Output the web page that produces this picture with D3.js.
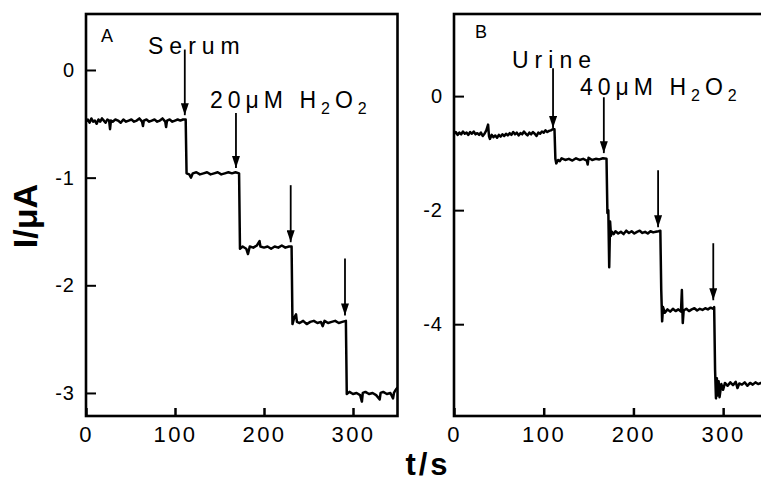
<!DOCTYPE html>
<html>
<head>
<meta charset="utf-8">
<script src="https://cdn.jsdelivr.net/npm/d3@7"></script>
<style>
  html, body { margin: 0; padding: 0; background: #fff; }
  svg { display: block; font-family: "Liberation Sans", Arial, sans-serif; }
</style>
</head>
<body>
<svg id="chart" width="761" height="483"></svg>
<script>
// ---------------- DATA ----------------
const xTicks = [0, 100, 200, 300];
const yTicksA = [0, -1, -2, -3];
const yTicksB = [0, -2, -4];

// Panel A: serum, 20 µM H2O2 additions  [t (s), I (µA)]
const traceA = [
  [0,-0.48],[2,-0.46],[4,-0.49],[6,-0.45],[8,-0.48],[10,-0.47],[12,-0.50],[14,-0.46],[16,-0.48],[18,-0.45],
  [20,-0.47],[22,-0.49],[24,-0.46],[26,-0.47],[27,-0.55],[28,-0.47],[30,-0.48],[33,-0.46],[36,-0.47],[39,-0.49],
  [42,-0.46],[45,-0.48],[48,-0.47],[51,-0.46],[54,-0.48],[57,-0.47],[60,-0.45],[63,-0.48],[64,-0.52],[65,-0.47],
  [68,-0.46],[71,-0.48],[74,-0.47],[77,-0.46],[80,-0.48],[83,-0.47],[86,-0.45],[89,-0.48],[90,-0.53],[91,-0.47],
  [94,-0.46],[97,-0.48],[100,-0.47],[103,-0.46],[106,-0.47],[109,-0.46],[112,-0.46],
  [113,-0.96],[116,-0.97],[118,-1.00],[120,-0.96],[124,-0.95],[128,-0.97],[132,-0.96],[136,-0.95],[140,-0.97],
  [144,-0.96],[148,-0.95],[152,-0.97],[156,-0.96],[160,-0.95],[164,-0.96],[168,-0.95],[172,-0.96],
  [173,-1.66],[176,-1.64],[180,-1.66],[182,-1.71],[184,-1.64],[188,-1.65],[192,-1.63],[195,-1.59],[196,-1.64],
  [200,-1.65],[204,-1.64],[208,-1.66],[212,-1.64],[216,-1.65],[220,-1.63],[224,-1.65],[228,-1.64],[231,-1.64],
  [232,-2.36],[234,-2.30],[236,-2.27],[237,-2.34],[240,-2.35],[244,-2.33],[248,-2.36],[252,-2.34],[256,-2.33],
  [260,-2.35],[264,-2.34],[266,-2.38],[268,-2.33],[272,-2.35],[276,-2.34],[280,-2.33],[284,-2.35],[288,-2.34],[292,-2.33],
  [293,-3.01],[296,-2.99],[300,-3.01],[304,-3.00],[308,-3.02],[310,-3.08],[311,-3.00],[314,-2.99],[318,-3.01],
  [322,-3.00],[326,-3.02],[330,-3.06],[331,-3.00],[334,-2.99],[338,-3.01],[342,-3.00],[345,-3.05],[346,-3.00],
  [348,-2.97],[350,-2.95]
];

// Panel B: urine, 40 µM H2O2 additions  [t (s), I (µA)]
const traceB = [
  [0,-0.66],[2,-0.63],[4,-0.68],[6,-0.64],[8,-0.67],[10,-0.62],[12,-0.66],[14,-0.64],[16,-0.68],[18,-0.63],
  [20,-0.66],[22,-0.62],[24,-0.67],[26,-0.65],[28,-0.68],[30,-0.64],[32,-0.70],[34,-0.66],[36,-0.60],[38,-0.50],
  [39,-0.70],[40,-0.75],[42,-0.68],[44,-0.72],[46,-0.69],[48,-0.73],[50,-0.68],[52,-0.71],[54,-0.67],[56,-0.70],
  [58,-0.66],[60,-0.69],[62,-0.65],[64,-0.68],[66,-0.63],[68,-0.67],[70,-0.64],[72,-0.69],[74,-0.65],[76,-0.67],
  [78,-0.62],[80,-0.66],[82,-0.69],[84,-0.64],[86,-0.67],[88,-0.63],[90,-0.66],[92,-0.70],[94,-0.64],[96,-0.66],
  [98,-0.62],[100,-0.64],[102,-0.60],[104,-0.63],[106,-0.61],[108,-0.60],[110,-0.58],[112,-0.58],
  [113,-1.10],[114,-1.18],[116,-1.12],[118,-1.14],[120,-1.09],[124,-1.12],[128,-1.10],[132,-1.13],[136,-1.09],
  [140,-1.12],[144,-1.10],[148,-1.13],[149,-1.20],[150,-1.08],[154,-1.12],[158,-1.10],[162,-1.11],[166,-1.09],[170,-1.10],
  [171,-2.05],[172,-2.00],[173,-3.00],[174,-2.20],[175,-2.45],[176,-2.38],
  [178,-2.42],[180,-2.37],[183,-2.41],[186,-2.38],[189,-2.42],[192,-2.36],[195,-2.40],[198,-2.37],[201,-2.41],
  [204,-2.38],[207,-2.36],[210,-2.40],[213,-2.38],[216,-2.41],[219,-2.37],[222,-2.39],[225,-2.38],[228,-2.37],[230,-2.36],
  [231,-3.40],[232,-3.95],[233,-3.70],[235,-3.80],
  [238,-3.74],[241,-3.78],[244,-3.73],[247,-3.77],[250,-3.74],[253,-3.78],[254,-3.40],[255,-3.98],[256,-3.76],
  [259,-3.73],[262,-3.77],[265,-3.74],[268,-3.72],[271,-3.76],[274,-3.73],[277,-3.75],[280,-3.72],[283,-3.74],
  [286,-3.71],[289,-3.73],[290,-3.70],
  [291,-4.80],[292,-5.30],[293,-4.95],[294,-5.25],[295,-5.00],[296,-5.28],[298,-5.05],[300,-5.15],[302,-5.03],
  [305,-5.08],[308,-5.02],[311,-5.07],[314,-5.01],[316,-5.12],[318,-5.04],[321,-5.06],[324,-5.02],[327,-5.08],
  [330,-5.03],[333,-5.06],[336,-5.02],[339,-5.05],[342,-5.03],[345,-5.06],[348,-5.04],[350,-5.05]
];

// Addition arrows: [t, I start (top), I tip]
const arrowsA = [[111, 0.19, -0.42], [168.5, -0.40, -0.91], [230, -1.07, -1.60], [291, -1.75, -2.28]];
const arrowsB = [[110.4, 0.49, -0.56], [167, -0.02, -1.00], [227.5, -1.30, -2.30], [289, -2.58, -3.58]];

// ---------------- LAYOUT ----------------
const svg = d3.select("#chart");
const defs = svg.append("defs");

// arrowhead pointing along the line direction (+x in marker space)
defs.append("marker")
  .attr("id", "head").attr("viewBox", "0 0 12 8")
  .attr("refX", 12).attr("refY", 4)
  .attr("markerWidth", 12).attr("markerHeight", 8)
  .attr("markerUnits", "userSpaceOnUse")
  .attr("orient", "auto")
  .append("path").attr("d", "M0,0 L12,4 L0,8 Z").attr("fill", "#000");

function panel(cfg) {
  const x = d3.scaleLinear().domain([0, 350]).range([cfg.left, cfg.right]);
  const y = d3.scaleLinear().domain(cfg.yDomain).range([14, 416]);
  const g = svg.append("g");

  const clipId = "clip" + cfg.id;
  defs.append("clipPath").attr("id", clipId)
    .append("rect").attr("x", cfg.left).attr("y", 14)
    .attr("width", cfg.right - cfg.left).attr("height", 402);

  // trace
  g.append("path").datum(cfg.trace)
    .attr("clip-path", `url(#${clipId})`)
    .attr("fill", "none").attr("stroke", "#000")
    .attr("stroke-width", 2.5).attr("stroke-linejoin", "round")
    .attr("d", d3.line().x(d => x(d[0])).y(d => y(d[1])));

  // arrows
  g.selectAll("line.arr").data(cfg.arrows).join("line")
    .attr("class", "arr")
    .attr("x1", d => x(d[0])).attr("x2", d => x(d[0]))
    .attr("y1", d => y(d[1])).attr("y2", d => y(d[2]))
    .attr("stroke", "#000").attr("stroke-width", 1.8)
    .attr("marker-end", "url(#head)");

  // axes
  const ax = g.append("g").attr("transform", `translate(0,416)`)
    .call(d3.axisBottom(x).tickValues(xTicks).tickSize(-8).tickPadding(10).tickFormat(d3.format("d")));
  ax.select(".domain").remove();
  ax.selectAll(".tick line").attr("stroke-width", 2.5);
  ax.selectAll(".tick text").attr("font-size", 22).attr("letter-spacing", 2.5)
    .attr("font-family", "Liberation Sans, Arial, sans-serif").attr("fill", "#000");

  const ay = g.append("g").attr("transform", `translate(${cfg.left},0)`)
    .call(d3.axisLeft(y).tickValues(cfg.yTicks).tickSize(-10).tickPadding(11)
      .tickFormat(d => d === 0 ? "0" : ("-" + Math.abs(d))));
  ay.select(".domain").remove();
  ay.selectAll(".tick line").attr("stroke-width", 2);
  ay.selectAll(".tick text").attr("font-size", 20).attr("letter-spacing", 1)
    .attr("font-family", "Liberation Sans, Arial, sans-serif").attr("fill", "#000");

  // frame
  g.append("rect").attr("x", cfg.left).attr("y", 14)
    .attr("width", cfg.right - cfg.left).attr("height", 402)
    .attr("fill", "none").attr("stroke", "#000").attr("stroke-width", 2.6);

  // labels
  g.append("text").attr("x", cfg.letter[1]).attr("y", cfg.letter[2])
    .attr("font-size", 18).text(cfg.letter[0]);

  g.append("text").attr("x", cfg.sample[1]).attr("y", cfg.sample[2])
    .attr("font-size", 23).attr("letter-spacing", 6).text(cfg.sample[0]);

  const t = g.append("text").attr("x", cfg.conc[1]).attr("y", cfg.conc[2])
    .attr("font-size", 23).attr("letter-spacing", 5);
  t.append("tspan").text(cfg.conc[0] + "μM H");
  t.append("tspan").attr("font-size", 16).attr("dy", 6).text("2");
  t.append("tspan").attr("dy", -6).text("O");
  t.append("tspan").attr("font-size", 16).attr("dy", 6).text("2");
}

panel({
  id: "A", left: 86, right: 397.5, yDomain: [0.52, -3.214], yTicks: yTicksA,
  trace: traceA, arrows: arrowsA,
  letter: ["A", 101, 42], sample: ["Serum", 148, 54], conc: ["20", 210, 108]
});
panel({
  id: "B", left: 454, right: 768, yDomain: [1.44, -5.61], yTicks: yTicksB,
  trace: traceB, arrows: arrowsB,
  letter: ["B", 475, 38], sample: ["Urine", 512, 68], conc: ["40", 580, 95]
});

// axis titles
svg.append("text").attr("transform", "translate(37,216) rotate(-90)")
  .attr("text-anchor", "middle").attr("font-size", 34).attr("font-weight", "bold")
  .text("I/μA");
svg.append("text").attr("x", 428).attr("y", 475)
  .attr("text-anchor", "middle").attr("font-size", 31).attr("font-weight", "bold")
  .attr("letter-spacing", 3).text("t/s");
</script>
</body>
</html>
